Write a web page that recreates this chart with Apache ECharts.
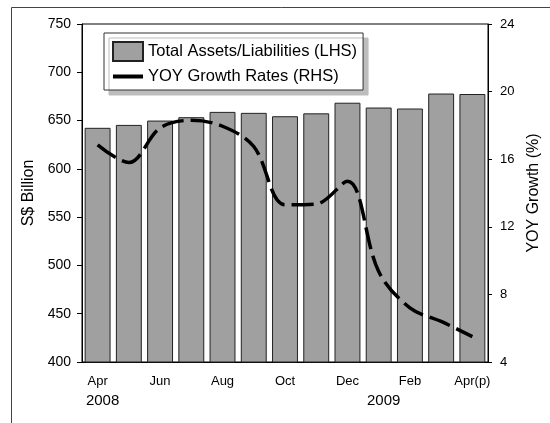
<!DOCTYPE html>
<html>
<head>
<meta charset="utf-8">
<script src="https://cdn.jsdelivr.net/npm/echarts@6/dist/echarts.min.js"></script>
<style>
html,body{margin:0;padding:0;background:#fff;}
#c{width:550px;height:423px;}
</style>
</head>
<body>
<div id="c"></div>
<script>
var categories = ['Apr 2008','May 2008','Jun 2008','Jul 2008','Aug 2008','Sep 2008','Oct 2008','Nov 2008','Dec 2008','Jan 2009','Feb 2009','Mar 2009','Apr 2009'];
var monthLabels = ['Apr','','Jun','','Aug','','Oct','','Dec','','Feb','','Apr(p)'];
var yearLabels = ['2008','','','','','','','','','2009','','',''];
var totalAssets = [642.5, 645.5, 650, 653.5, 659, 658, 654.5, 657.5, 668.5, 663.5, 662.5, 678, 677.5];
var yoyGrowth = [16.85, 15.8, 17.85, 18.3, 17.95, 16.75, 13.3, 13.35, 14.7, 9.35, 7.2, 6.4, 5.5];
var leftTicks = {min: 400, max: 750, interval: 50};
var rightTicks = {min: 4, max: 24, interval: 4};

var chart = echarts.init(document.getElementById('c'));
var font = '"Liberation Sans", Arial, sans-serif';
chart.setOption({
  animation: false,
  backgroundColor: '#fff',
  textStyle: {fontFamily: font, color: '#000'},
  graphic: [{
    type: 'rect', silent: true, z: -10,
    shape: {x: 11.5, y: 7.5, width: 700, height: 700},
    style: {fill: 'none', stroke: '#444', lineWidth: 1}
  }],
  grid: {left: 82, right: 62, top: 24, bottom: 61, show: true, borderColor: '#000', borderWidth: 1, backgroundColor: 'transparent'},
  legend: {
    left: 104, top: 33, orient: 'vertical',
    padding: [8, 6, 5, 8],
    itemWidth: 30, itemHeight: 19, itemGap: 6, itemTextGap: 5,
    symbolKeepAspect: true,
    backgroundColor: '#fff', borderColor: '#333', borderWidth: 1,
    shadowColor: '#bdbdbd', shadowBlur: 0, shadowOffsetX: 5, shadowOffsetY: 5,
    textStyle: {fontFamily: font, fontSize: 16.5, color: '#000'},
    data: [
      {name: 'Total Assets/Liabilities (LHS)', icon: 'rect'},
      {name: 'YOY Growth Rates (RHS)', icon: 'path://M0,0L30,0L30,4L0,4Z', itemStyle: {color: '#000', borderWidth: 0}}
    ]
  },
  xAxis: {
    type: 'category', data: categories,
    axisLine: {lineStyle: {color: '#000', width: 1}},
    axisTick: {show: true, inside: true, length: 5, alignWithLabel: true, interval: 0, lineStyle: {color: '#000'}},
    axisLabel: {
      interval: 0, margin: 11,
      formatter: function (v, i) {
        var m = monthLabels[i], y = yearLabels[i];
        if (!m && !y) return '';
        return '{m|' + (m || ' ') + '}' + (y ? '\n{y|' + y + '}' : '');
      },
      rich: {
        m: {fontSize: 13, lineHeight: 17, fontFamily: font, color: '#000'},
        y: {fontSize: 15, lineHeight: 21, fontFamily: font, color: '#000', padding: [0, 0, 0, 10]}
      }
    }
  },
  yAxis: [{
    type: 'value', min: leftTicks.min, max: leftTicks.max, interval: leftTicks.interval,
    name: 'S$ Billion', nameLocation: 'middle', nameRotate: 90, nameGap: 38,
    nameTextStyle: {fontSize: 16, fontFamily: font, color: '#000'},
    axisLine: {show: true, lineStyle: {color: '#000'}},
    axisTick: {show: true, length: 5, lineStyle: {color: '#000'}},
    axisLabel: {fontSize: 14, margin: 11, color: '#000'},
    splitLine: {show: false}
  }, {
    type: 'value', position: 'right', min: rightTicks.min, max: rightTicks.max, interval: rightTicks.interval,
    name: 'YOY Growth (%)', nameLocation: 'middle', nameRotate: 90, nameGap: 36,
    nameTextStyle: {fontSize: 16, fontFamily: font, color: '#000'},
    axisLine: {show: true, lineStyle: {color: '#000'}},
    axisTick: {show: true, length: 4, lineStyle: {color: '#000'}},
    axisLabel: {fontSize: 13, margin: 12, color: '#000'},
    splitLine: {show: false}
  }],
  series: [{
    name: 'Total Assets/Liabilities (LHS)', type: 'bar', yAxisIndex: 0,
    data: totalAssets, barWidth: '83%',
    itemStyle: {color: '#a0a0a0', borderColor: '#222', borderWidth: 1}
  }, {
    name: 'YOY Growth Rates (RHS)', type: 'line', yAxisIndex: 1,
    data: yoyGrowth, smooth: 0.35, symbol: 'none',
    lineStyle: {color: '#000', width: 3.5, type: [22, 7], cap: 'butt'},
    itemStyle: {color: '#000'}
  }]
});
</script>
</body>
</html>
